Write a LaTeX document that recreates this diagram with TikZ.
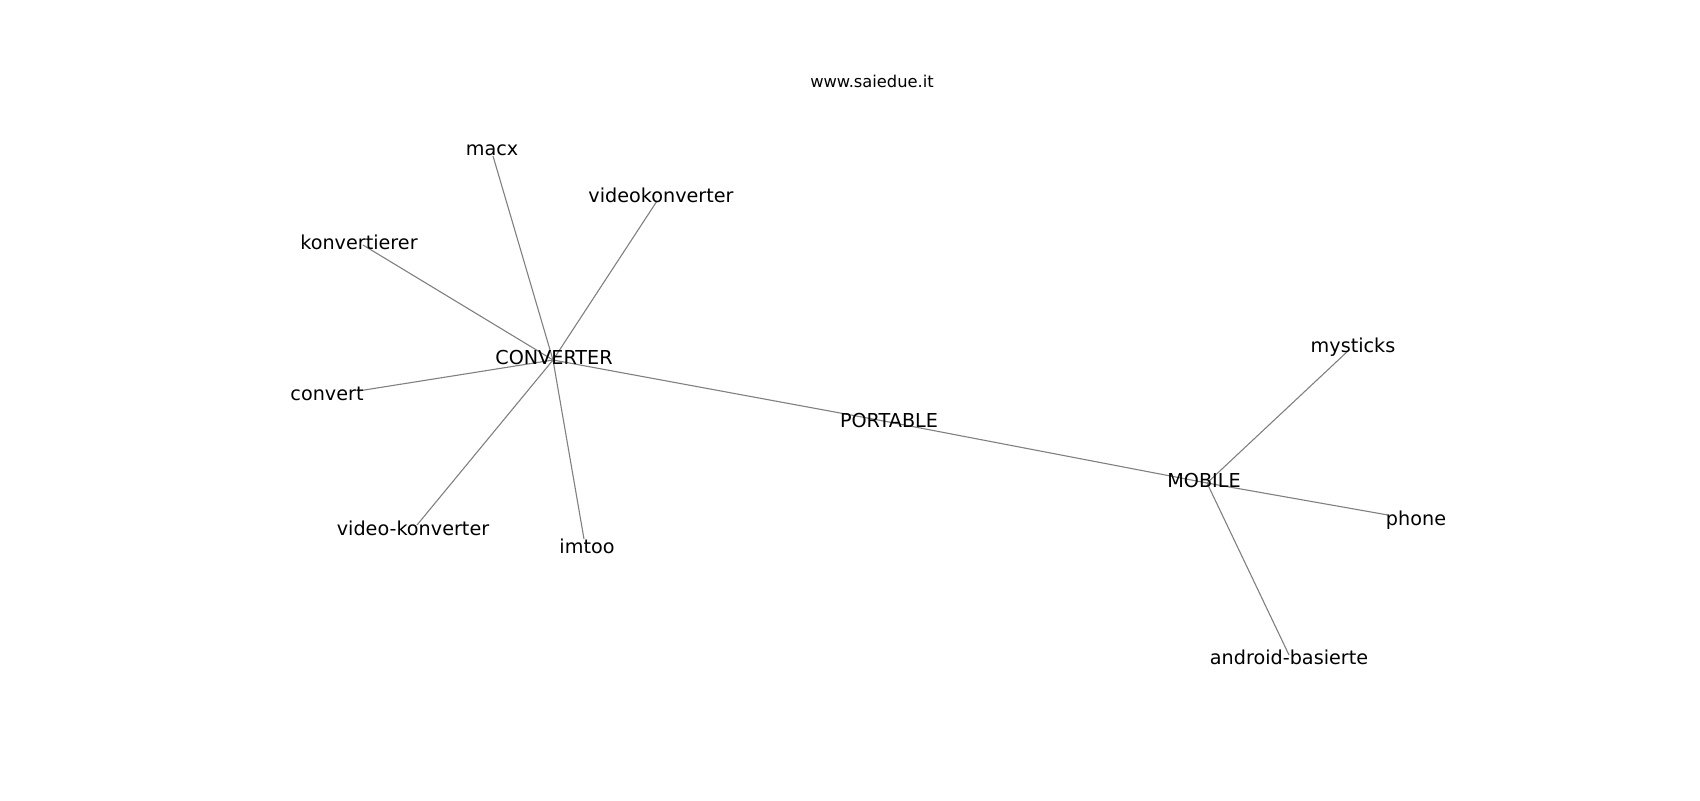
\documentclass[tikz,border=0pt]{standalone}
\usepackage{fontspec}
\setmainfont{DejaVu Sans}

\begin{document}
\begin{tikzpicture}[x=0.5pt,y=-0.5pt,
		word/.style={inner sep=0pt,anchor=base,font=\fontsize{9.6}{11}\selectfont},
		edge/.style={draw=gray,line width=0.55pt}]
		\useasboundingbox (0,0) rectangle (1700,800);
		\node at (872,87)[anchor=base,inner sep=0pt,font=\fontsize{8.15}{10}\selectfont] (site) {www.saiedue.it};
		% graph points
		\coordinate (CONVERTER) at (553,360);
		\coordinate (macx) at (493,156);
		\coordinate (videokonverter) at (657,201);
		\coordinate (konvertierer) at (363,245);
		\coordinate (convert) at (358,391);
		\coordinate (video-konverter) at (417,525);
		\coordinate (imtoo) at (584,539);
		\coordinate (PORTABLE) at (889,422);
		\coordinate (MOBILE) at (1207,483);
		\coordinate (mysticks) at (1349,350);
		\coordinate (phone) at (1388,515);
		\coordinate (android-basierte) at (1289,655);
		% edges
		\foreach \leaf in {macx,videokonverter,konvertierer,convert,video-konverter,imtoo,PORTABLE}
			\draw[edge] (CONVERTER) -- (\leaf);
		\foreach \leaf in {PORTABLE,mysticks,phone,android-basierte}
			\draw[edge] (MOBILE) -- (\leaf);
		% labels
		\node at (554,364)[word] (CONVERTER-t) {CONVERTER};
		\node at (492,155)[word] (macx-t) {macx};
		\node at (661,202)[word] (videokonverter-t) {videokonverter};
		\node at (359,249)[word] (konvertierer-t) {konvertierer};
		\node at (327,400)[word] (convert-t) {convert};
		\node at (413,535)[word] (video-konverter-t) {video-konverter};
		\node at (587,553)[word] (imtoo-t) {imtoo};
		\node at (889,427)[word] (PORTABLE-t) {PORTABLE};
		\node at (1204,487)[word] (MOBILE-t) {MOBILE};
		\node at (1353,352)[word] (mysticks-t) {mysticks};
		\node at (1416,525)[word] (phone-t) {phone};
		\node at (1289,664)[word] (android-basierte-t) {android-basierte};
\end{tikzpicture}
\end{document}
